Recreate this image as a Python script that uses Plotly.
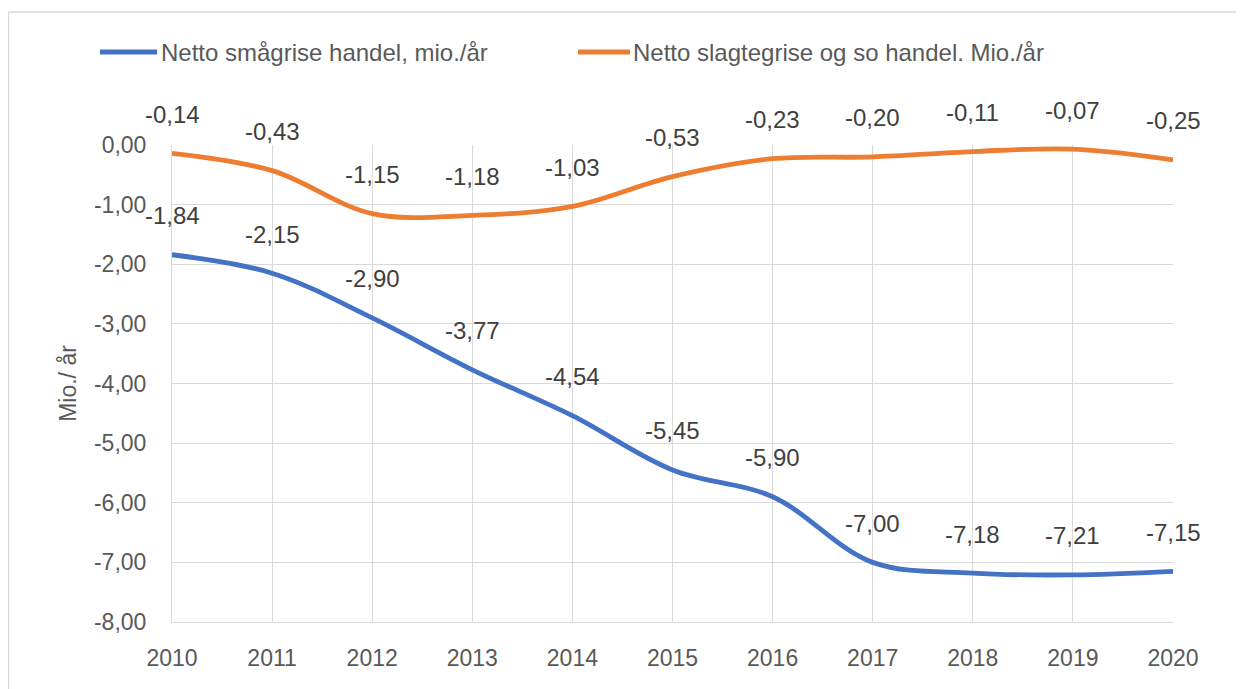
import plotly.graph_objects as go

years = [2010, 2011, 2012, 2013, 2014, 2015, 2016, 2017, 2018, 2019, 2020]
smaagrise = [-1.84, -2.15, -2.90, -3.77, -4.54, -5.45, -5.90, -7.00, -7.18, -7.21, -7.15]
slagtegrise = [-0.14, -0.43, -1.15, -1.18, -1.03, -0.53, -0.23, -0.20, -0.11, -0.07, -0.25]
series_names = ["Netto smågrise handel, mio./år", "Netto slagtegrise og so handel. Mio./år"]
y_tickvals = [0, -1, -2, -3, -4, -5, -6, -7, -8]
y_ticktext = ["0,00", "-1,00", "-2,00", "-3,00", "-4,00", "-5,00", "-6,00", "-7,00", "-8,00"]
y_title = "Mio./ år"

BLUE = "#4472C4"
ORANGE = "#ED7D31"
FONT = "Liberation Sans, Arial, sans-serif"

# the page body adds an 8px offset; figure sized so it fits the 1244x689 window
OFF = 8
W, H = 1244 - OFF, 689 - OFF
L = 172 - OFF
T = 145 - OFF
R = W - (1173 - OFF)
B = H - (622 - OFF)
plot_w = W - L - R
plot_h = H - T - B


def px_x(px):
    return (px - OFF - L) / plot_w


def px_y(py):
    return (T + plot_h - (py - OFF)) / plot_h


fig = go.Figure()
colors = [BLUE, ORANGE]
for name, vals, col in zip(series_names, (smaagrise, slagtegrise), colors):
    fig.add_trace(go.Scatter(
        x=years, y=vals, mode="lines", name=name,
        line=dict(color=col, width=4.8, shape="spline", smoothing=1.0),
        hoverinfo="skip", showlegend=False,
    ))

annotations = []
for vals in (smaagrise, slagtegrise):
    for x, v in zip(years, vals):
        annotations.append(dict(
            x=x, y=v, xref="x", yref="y", text=f"{v:.2f}".replace(".", ","),
            showarrow=False, yshift=39, xanchor="center", yanchor="middle",
            font=dict(family=FONT, size=24, color="#404040"),
        ))

# chart frame: only left and top edges are visible in the window
frame = dict(color="#d9d9d9", width=1.5)
shapes = [
    dict(type="line", xref="paper", yref="paper", layer="below",
         x0=px_x(8.5), x1=px_x(8.5), y0=px_y(12), y1=px_y(689 + 40), line=frame),
    dict(type="line", xref="paper", yref="paper", layer="below",
         x0=px_x(8.5), x1=px_x(1244 + 40), y0=px_y(12), y1=px_y(12), line=frame),
]

# legend drawn as line samples + text
legend_items = [(100, 157, 159), (578, 630, 631)]
for (lx0, lx1, tx), name, col in zip(legend_items, series_names, colors):
    shapes.append(dict(
        type="line", xref="paper", yref="paper",
        x0=px_x(lx0), x1=px_x(lx1), y0=px_y(52), y1=px_y(52),
        line=dict(color=col, width=5),
    ))
    annotations.append(dict(
        x=px_x(tx), y=px_y(52), xref="paper", yref="paper", text=name,
        showarrow=False, xanchor="left", yanchor="middle",
        font=dict(family=FONT, size=24, color="#595959"),
    ))

fig.update_layout(
    width=W, height=H,
    margin=dict(l=L, r=R, t=T, b=B, autoexpand=False),
    paper_bgcolor="white", plot_bgcolor="white",
    font=dict(family=FONT, size=23, color="#595959"),
    showlegend=False,
    xaxis=dict(
        range=[2010, 2020], tickvals=years, ticktext=[str(y) for y in years],
        showgrid=True, gridcolor="#d9d9d9", gridwidth=1,
        showline=True, linecolor="#d9d9d9", linewidth=1,
        zeroline=False, ticks="", ticklabelstandoff=15,
        tickfont=dict(family=FONT, size=23, color="#595959"),
        fixedrange=True,
    ),
    yaxis=dict(
        range=[-8, 0], tickvals=y_tickvals, ticktext=y_ticktext,
        showgrid=True, gridcolor="#d9d9d9", gridwidth=1,
        showline=True, linecolor="#d9d9d9", linewidth=1,
        zeroline=False, ticks="", ticklabelstandoff=20,
        tickfont=dict(family=FONT, size=23, color="#595959"),
        title=dict(text=y_title, font=dict(family=FONT, size=23, color="#595959"), standoff=10),
        fixedrange=True,
    ),
    annotations=annotations,
    shapes=shapes,
)

fig.write_html("out.html", config={"displayModeBar": False})
